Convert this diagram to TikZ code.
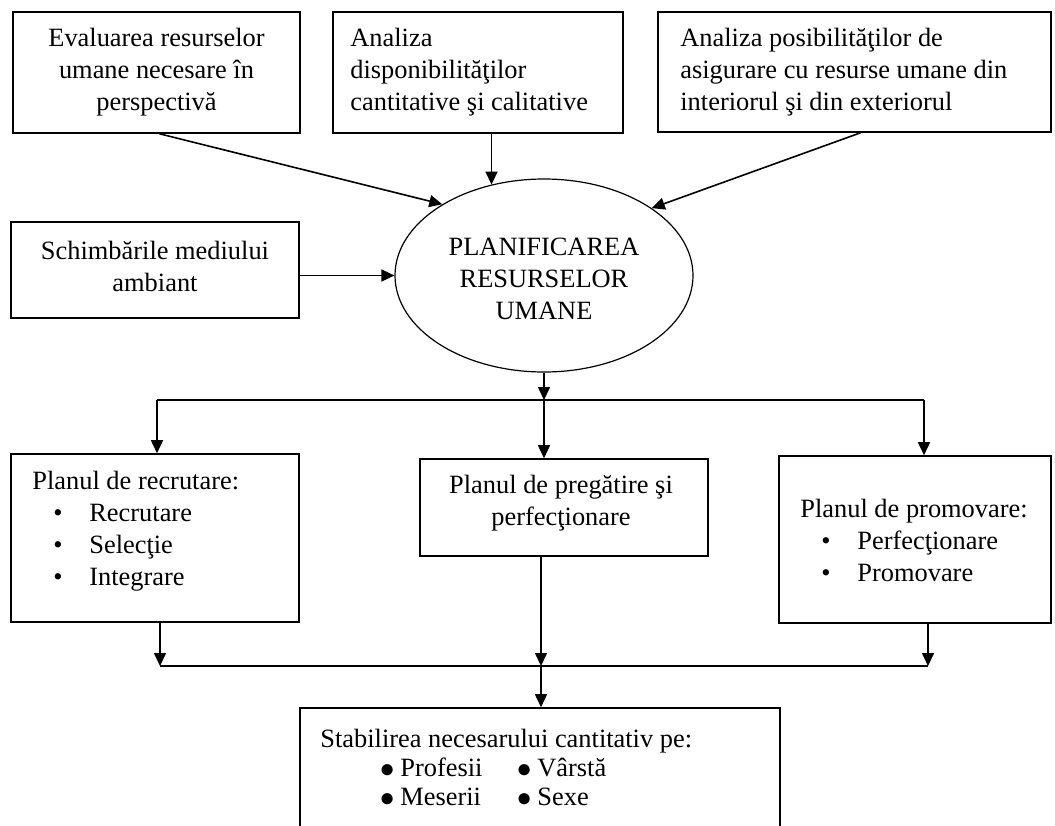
\documentclass[tikz,border=0pt]{standalone}
\usepackage{fontspec}
\setmainfont{Liberation Serif}
\usetikzlibrary{shapes.geometric,arrows.meta,fit}
\newcommand\mysmallbul{\hspace*{10.5pt}\makebox[18pt][l]{•}}
\newcommand\mybigdot{\makebox[10.5pt][l]{\raisebox{-0.3pt}{\fontsize{13}{13}\selectfont ●}}}
\begin{document}
\begin{tikzpicture}[x=0.5pt,y=-0.5pt,
  box/.style={draw,line width=0.8pt,inner sep=0pt},
  txt/.style={inner sep=0pt,font=\fontsize{13.2}{16}\selectfont},
  arr/.style={line width=0.8pt,-{Triangle[length=6.5pt,width=6pt]}},
  ln/.style={line width=0.8pt}]
\useasboundingbox (0,0) rectangle (1055,825);

% top row
\node[box,fit={(13,12) (300,133)}] (b1) {};
\node[txt,align=center] (t1) at (156.5,72)
  {Evaluarea resurselor\\umane necesare în\\perspectivă};
\node[box,fit={(333,12) (623,133)}] (b2) {};
\node[txt,align=left,anchor=west] (t2) at (350,72)
  {Analiza\\disponibilităţilor\\cantitative şi calitative};
\node[box,fit={(658,12) (1051,132)}] (b3) {};
\node[txt,align=left,anchor=west] (t3) at (680,72)
  {Analiza posibilităţilor de\\asigurare cu resurse umane din\\interiorul şi din exteriorul};

% middle
\node[box,fit={(11,222) (299,318)}] (b4) {};
\node[txt,align=center] (t4) at (155,266) {Schimbările mediului\\ambiant};
\node[draw,ellipse,line width=0.6pt,inner sep=0pt,
  minimum width=149pt,minimum height=96.5pt] (ell) at (544,275.5) {};
\node[txt,align=center] (te) at (544,279) {PLANIFICAREA\\RESURSELOR\\UMANE};

% plans
\node[box,fit={(11,454) (299,622)}] (p1) {};
\node[txt,align=left,anchor=west] (t5) at (32,531)
  {Planul de recrutare:\\\mysmallbul Recrutare\\\mysmallbul Selecţie\\\mysmallbul Integrare};
\node[box,fit={(420,459) (708,556)}] (p2) {};
\node[txt,align=center] (t6) at (561,503) {Planul de pregătire şi\\perfecţionare};
\node[box,fit={(779,456) (1051,623)}] (p3) {};
\node[txt,align=left,anchor=west] (t7) at (800,540)
  {Planul de promovare:\\\mysmallbul Perfecţionare\\\mysmallbul Promovare};

% bottom
\node[box,fit={(300,708) (780,845)}] (bot) {};
\node[inner sep=0pt,font=\fontsize{13.2}{14.5}\selectfont,align=left,anchor=west] (t8) at (320,768)
  {Stabilirea necesarului cantitativ pe:\\
   \hspace*{29.5pt}\makebox[68.5pt][l]{\mybigdot Profesii}\mybigdot Vârstă\\
   \hspace*{29.5pt}\makebox[68.5pt][l]{\mybigdot Meserii}\mybigdot Sexe};

% bus coordinates
\coordinate (tL) at (157,400);
\coordinate (tC) at (544,400);
\coordinate (tR) at (924,400);
\coordinate (bL) at (160,666);
\coordinate (bC) at (541,666);
\coordinate (bR) at (928,666);

% connectors
\draw[arr] ([xshift=1.5pt]b1.south) -- (ell.145);
\draw[arr] (b2.south -| ell.120) -- (ell.120);
\draw[arr] ([xshift=3pt]b3.south) -- (ell.32);
\draw[arr] (b4.east |- ell.west) -- (ell.west);
\draw[arr] (ell.south) -- (tC);
\draw[ln] (tL) -- (tR);
\draw[arr] (tL) -- (tL |- p1.north);
\draw[arr] (tC) -- (tC |- p2.north);
\draw[arr] (tR) -- (tR |- p3.north);
\draw[arr] (p1.south -| bL) -- (bL);
\draw[arr] (p2.south -| bC) -- (bC);
\draw[arr] (p3.south -| bR) -- (bR);
\draw[ln] (bL) -- (bR);
\draw[arr] (bC) -- (bot.north -| bC);
\end{tikzpicture}
\end{document}
